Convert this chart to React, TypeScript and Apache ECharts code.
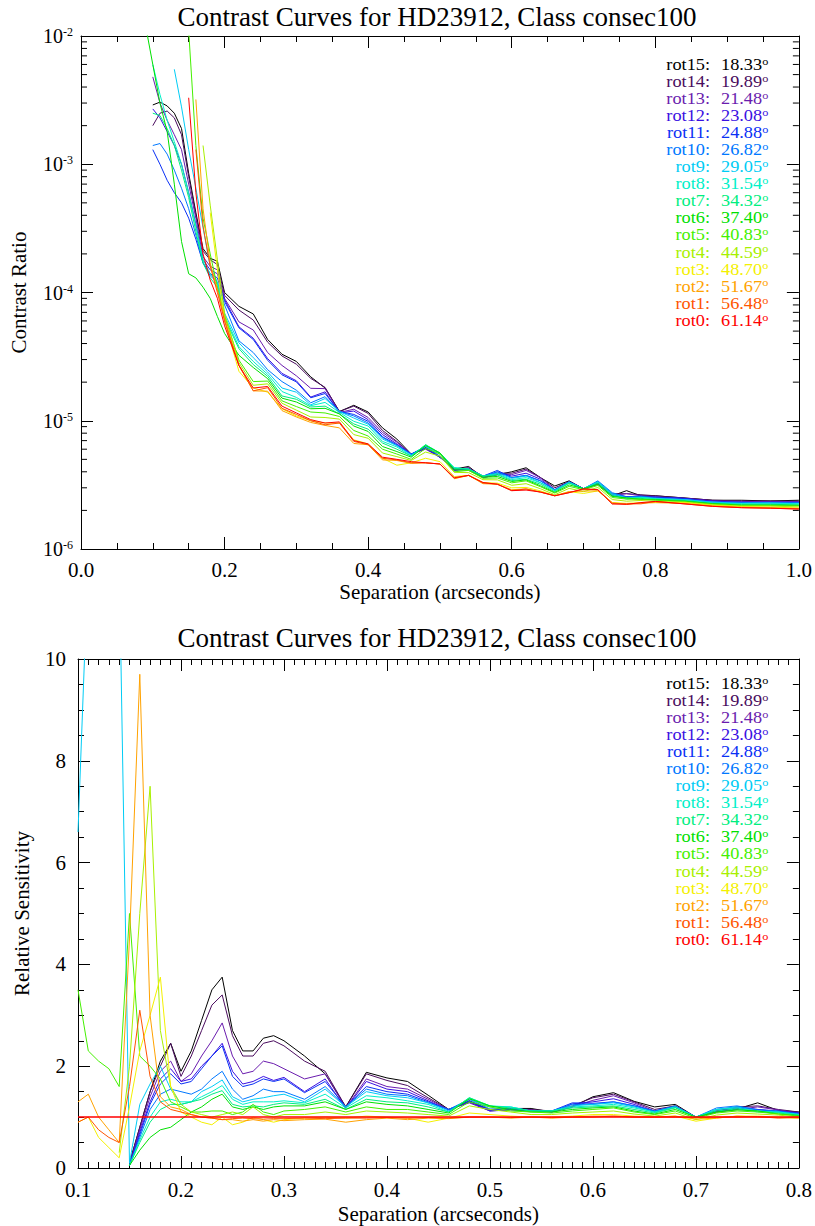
import React, { useEffect, useRef } from "react";
import * as echarts from "echarts";

const FONT = "Liberation Serif";
const TITLE = "Contrast Curves for HD23912, Class consec100";

const ROT_NAMES = ["rot15", "rot14", "rot13", "rot12", "rot11", "rot10", "rot9", "rot8", "rot7", "rot6", "rot5", "rot4", "rot3", "rot2", "rot1", "rot0"];
const ROT_ANGLES = ["18.33", "19.89", "21.48", "23.08", "24.88", "26.82", "29.05", "31.54", "34.32", "37.40", "40.83", "44.59", "48.70", "51.67", "56.48", "61.14"];
const ROT_COLORS = ["#000000", "#4a0c5e", "#6a1cae", "#3a10e2", "#0a30f5", "#0078ff", "#00ccf5", "#00f0c8", "#00ee80", "#00e000", "#44f000", "#a8f000", "#f4f000", "#ffa200", "#ff5400", "#ff0000"];

// separations (arcsec)
const TOP_SEP = [0.09, 0.10, 0.11, 0.12, 0.13, 0.14, 0.15, 0.16, 0.17, 0.18, 0.19, 0.20, 0.22, 0.24, 0.26, 0.28, 0.30, 0.32, 0.34, 0.36, 0.38, 0.40, 0.42, 0.44, 0.46, 0.48, 0.50, 0.52, 0.54, 0.56, 0.58, 0.60, 0.62, 0.64, 0.66, 0.68, 0.70, 0.72, 0.74, 0.76, 0.78, 0.80, 0.84, 0.88, 0.92, 0.96, 1.00];
const BOT_SEP = [0.10, 0.11, 0.12, 0.13, 0.14, 0.15, 0.16, 0.17, 0.18, 0.19, 0.20, 0.21, 0.22, 0.23, 0.24, 0.25, 0.26, 0.27, 0.28, 0.29, 0.30, 0.32, 0.34, 0.36, 0.38, 0.40, 0.42, 0.44, 0.46, 0.48, 0.50, 0.52, 0.54, 0.56, 0.58, 0.60, 0.62, 0.64, 0.66, 0.68, 0.70, 0.72, 0.74, 0.76, 0.78, 0.80];

// contrast ratio, in units of 1e-6
const topRot15 = [null, 2900, 3050, 2850, 2500, 1900, 850, 420, 220, 185, 175, 100, 78, 68, 43, 33, 29, 22, 18, 11.8, 13.2, 11.7, 8.8, 7.2, 5.5, 6.2, 5.2, 4.2, 4.4, 3.6, 3.8, 4.0, 4.3, 3.6, 3.1, 3.4, 2.95, 3.2, 2.6, 2.85, 2.6, 2.6, 2.5, 2.4, 2.4, 2.37, 2.4];
const topRot14 = [null, 2000, 2500, 2600, 2300, 1700, 800, 400, 210, 180, 165, 95, 73, 61, 41, 32, 27.6, 21.4, 18.2, 11.8, 13, 11.4, 8.4, 6.9, 5.5, 6.1, 5.2, 4.2, 4.3, 3.7, 3.9, 3.9, 4.2, 3.6, 3.0, 3.35, 2.95, 3.25, 2.7, 2.7, 2.65, 2.6, 2.5, 2.4, 2.37, 2.37, 2.36];
const topRot13 = [null, 4800, 3000, 2200, 1700, 1300, 700, 380, 190, 160, 150, 90, 59, 51, 34, 27, 22.4, 17.9, 17.8, 11.6, 12.3, 10.6, 8.1, 6.8, 5.5, 6.0, 5.2, 4.1, 4.3, 3.6, 3.8, 3.8, 4.1, 3.6, 2.9, 3.35, 2.95, 3.2, 2.6, 2.7, 2.6, 2.55, 2.48, 2.37, 2.35, 2.33, 2.34];
const topRot12 = [null, 2700, 2300, 1800, 1400, 1000, 600, 340, 180, 150, 140, 88, 54, 44, 30.5, 23.4, 20.5, 15.3, 16.8, 11.5, 11.9, 10.2, 7.8, 6.6, 5.5, 6.1, 5.2, 4.1, 4.2, 3.6, 4.0, 3.7, 3.9, 3.5, 2.86, 3.3, 2.95, 3.25, 2.65, 2.56, 2.58, 2.54, 2.48, 2.37, 2.31, 2.33, 2.32];
const topRot11 = [null, 1300, 1000, 750, 600, 500, 380, 260, 170, 140, 130, 85, 53, 43, 29.6, 22.8, 20.1, 15.1, 16.3, 11.8, 11.2, 9.9, 7.5, 6.5, 5.5, 6.2, 5.2, 4.2, 4.2, 3.7, 4.1, 3.6, 3.75, 3.4, 2.9, 3.3, 2.95, 3.35, 2.7, 2.56, 2.53, 2.54, 2.48, 2.32, 2.31, 2.29, 2.3];
const topRot10 = [null, 1400, 1450, 1200, 900, 650, 450, 280, 170, 135, 120, 80, 42, 34, 25, 20.2, 17.3, 13.8, 15.4, 11.8, 10.9, 9.6, 7.4, 6.4, 5.5, 6.3, 5.3, 4.2, 4.2, 3.7, 4.0, 3.6, 3.75, 3.4, 2.9, 3.35, 2.95, 3.4, 2.75, 2.54, 2.58, 2.5, 2.43, 2.32, 2.31, 2.29, 2.3];
const topRot9 = [null, null, null, null, 5500, 2800, 1300, 650, 320, 160, 120, 69, 40.5, 31, 24, 18, 16.7, 13.3, 14.9, 11.8, 10.5, 9.4, 7.2, 6.4, 5.4, 6.3, 5.5, 4.3, 4.2, 3.7, 3.9, 3.56, 3.7, 3.3, 2.86, 3.3, 2.95, 3.33, 2.7, 2.5, 2.53, 2.47, 2.43, 2.32, 2.27, 2.29, 2.25];
const topRot8 = [null, 6000, 3500, 2200, 1500, 1000, 600, 330, 180, 140, 120, 66, 37.8, 29, 23, 16.9, 15.2, 13.1, 13.9, 11.6, 9.9, 9.1, 6.9, 6.25, 5.3, 6.5, 5.6, 4.3, 4.2, 3.7, 3.84, 3.48, 3.6, 3.28, 2.86, 3.3, 2.95, 3.33, 2.65, 2.45, 2.53, 2.47, 2.39, 2.28, 2.25, 2.25, 2.25];
const topRot7 = [null, 2500, 2400, 1900, 1400, 900, 550, 300, 170, 130, 110, 63, 36.5, 27.4, 22.2, 15.6, 14.7, 12.8, 13, 11.3, 9.45, 8.6, 6.7, 6.0, 5.3, 6.5, 5.6, 4.25, 4.2, 3.7, 3.78, 3.42, 3.5, 3.2, 2.8, 3.25, 2.95, 3.25, 2.6, 2.5, 2.48, 2.44, 2.39, 2.26, 2.23, 2.23, 2.21];
const topRot6 = [12000, 6000, 3000, 1800, 700, 250, 140, 130, 110, 90, 65, 48, 32.4, 26, 21.3, 15, 14, 12.4, 12.5, 11.3, 9.1, 8.25, 6.3, 5.75, 5.2, 6.4, 5.6, 4.15, 4.1, 3.63, 3.68, 3.36, 3.46, 3.11, 2.76, 3.16, 2.95, 3.19, 2.57, 2.5, 2.44, 2.42, 2.36, 2.26, 2.2, 2.2, 2.19];
const topRot5 = [null, null, null, null, null, null, 11000, 1400, 380, 200, 110, 66, 29.7, 20.2, 20.4, 14.3, 12.9, 11.7, 11.5, 10.8, 8.4, 7.6, 6.0, 5.5, 5.0, 6.1, 5.5, 4.0, 4.1, 3.56, 3.58, 3.28, 3.4, 3.06, 2.73, 3.08, 2.9, 3.13, 2.52, 2.45, 2.44, 2.4, 2.34, 2.24, 2.18, 2.18, 2.17];
const topRot4 = [null, null, null, null, null, null, null, null, 1400, 480, 180, 69, 28.4, 18.9, 19.4, 13.7, 12.1, 10.7, 10.6, 10.3, 7.8, 7.3, 5.6, 5.25, 4.9, 5.7, 5.3, 3.96, 3.94, 3.47, 3.46, 3.14, 3.23, 2.95, 2.65, 2.97, 2.8, 3.02, 2.43, 2.36, 2.39, 2.35, 2.32, 2.21, 2.16, 2.16, 2.13];
const topRot3 = [null, null, null, null, null, null, null, null, null, 420, 150, 60, 24.3, 18, 16.7, 12.4, 10.9, 10, 9.6, 9.6, 7.1, 6.6, 5.1, 4.5, 4.7, 5.1, 4.8, 3.67, 3.75, 3.3, 3.26, 3.0, 3.02, 2.84, 2.6, 2.8, 2.71, 2.84, 2.3, 2.27, 2.3, 2.3, 2.3, 2.19, 2.14, 2.12, 2.09];
const topRot2 = [null, null, null, null, null, null, null, 3200, 450, 170, 105, 63, 27, 17.1, 17, 12, 10.7, 9.7, 9.2, 8.8, 6.65, 6.5, 4.95, 4.9, 4.65, 4.7, 4.6, 3.53, 3.75, 3.23, 3.2, 2.9, 2.94, 2.78, 2.6, 2.8, 2.83, 2.84, 2.3, 2.23, 2.28, 2.3, 2.27, 2.17, 2.12, 2.1, 2.07];
const topRot1 = [null, null, null, null, null, null, null, 1300, 330, 160, 100, 60, 27, 17.1, 18.1, 12.5, 11.2, 10, 9.3, 9.6, 6.9, 6.5, 5.1, 4.95, 4.7, 4.7, 4.6, 3.56, 3.75, 3.27, 3.2, 2.85, 2.94, 2.78, 2.6, 2.75, 2.92, 2.9, 2.25, 2.25, 2.25, 2.35, 2.25, 2.15, 2.1, 2.08, 2.05];
const topRot0 = [null, null, null, null, null, null, 3300, 600, 200, 125, 90, 55, 27, 18, 18.5, 13, 11.5, 10.2, 9.6, 9.8, 7.0, 6.6, 5.2, 5.0, 4.8, 4.7, 4.6, 3.6, 3.75, 3.3, 3.2, 2.85, 2.88, 2.78, 2.6, 2.75, 2.95, 2.9, 2.25, 2.23, 2.3, 2.35, 2.25, 2.15, 2.1, 2.08, 2.05];

// relative sensitivity
const relRot15 = [null, null, null, null, null, 0.1, 0.8, 1.5, 2.1, 2.45, 1.9, 2.3, 2.9, 3.5, 3.75, 2.7, 2.3, 2.3, 2.55, 2.6, 2.5, 2.2, 1.85, 1.2, 1.88, 1.77, 1.70, 1.43, 1.15, 1.32, 1.14, 1.17, 1.17, 1.10, 1.20, 1.40, 1.48, 1.31, 1.20, 1.25, 1.0, 1.10, 1.16, 1.28, 1.13, 1.10];
const relRot14 = [null, null, null, null, null, 0.1, 0.8, 1.5, 2.0, 2.45, 1.8, 2.2, 2.7, 3.2, 3.4, 2.6, 2.2, 2.2, 2.45, 2.5, 2.4, 2.1, 1.9, 1.2, 1.85, 1.72, 1.62, 1.38, 1.15, 1.30, 1.14, 1.17, 1.15, 1.12, 1.22, 1.38, 1.45, 1.30, 1.15, 1.22, 1.0, 1.12, 1.20, 1.22, 1.15, 1.10];
const relRot13 = [null, null, null, null, null, 0.05, 0.75, 1.4, 1.9, 2.1, 1.7, 1.85, 2.2, 2.5, 2.85, 2.2, 1.85, 1.9, 2.1, 2.05, 1.95, 1.75, 1.85, 1.18, 1.75, 1.6, 1.55, 1.35, 1.15, 1.28, 1.12, 1.15, 1.14, 1.10, 1.2, 1.33, 1.42, 1.28, 1.12, 1.22, 1.0, 1.1, 1.15, 1.2, 1.14, 1.08];
const relRot12 = [null, null, null, null, null, 0.05, 0.7, 1.3, 1.75, 1.95, 1.7, 1.75, 2.0, 2.2, 2.45, 1.9, 1.65, 1.7, 1.8, 1.72, 1.78, 1.5, 1.75, 1.17, 1.7, 1.55, 1.5, 1.32, 1.14, 1.3, 1.12, 1.14, 1.12, 1.10, 1.26, 1.30, 1.36, 1.25, 1.1, 1.2, 1.0, 1.12, 1.18, 1.15, 1.12, 1.08];
const relRot11 = [null, null, null, null, null, 0.05, 0.65, 1.25, 1.65, 1.85, 1.65, 1.7, 1.95, 2.2, 2.4, 1.8, 1.6, 1.65, 1.75, 1.7, 1.75, 1.48, 1.7, 1.2, 1.6, 1.5, 1.45, 1.3, 1.15, 1.32, 1.14, 1.16, 1.12, 1.12, 1.28, 1.27, 1.3, 1.22, 1.12, 1.2, 1.0, 1.15, 1.2, 1.15, 1.1, 1.08];
const relRot10 = [null, null, null, null, null, 0.05, 0.6, 1.15, 1.45, 1.55, 1.5, 1.45, 1.55, 1.75, 1.9, 1.55, 1.35, 1.42, 1.55, 1.5, 1.5, 1.35, 1.6, 1.2, 1.55, 1.45, 1.42, 1.28, 1.15, 1.35, 1.16, 1.17, 1.12, 1.12, 1.25, 1.25, 1.3, 1.22, 1.12, 1.22, 1.0, 1.18, 1.22, 1.14, 1.12, 1.06];
const relRot9 = [6.6, 12, 14, 14, 12, 0.1, 1.25, 1.65, 2.0, 1.55, 1.25, 1.3, 1.5, 1.6, 1.73, 1.4, 1.3, 1.35, 1.38, 1.42, 1.45, 1.3, 1.55, 1.2, 1.5, 1.42, 1.38, 1.28, 1.12, 1.35, 1.2, 1.2, 1.12, 1.12, 1.22, 1.25, 1.28, 1.2, 1.1, 1.2, 1.0, 1.15, 1.2, 1.12, 1.1, 1.05];
const relRot8 = [null, null, null, null, null, 0.05, 0.55, 1.0, 1.3, 1.35, 1.3, 1.3, 1.4, 1.5, 1.62, 1.35, 1.25, 1.3, 1.3, 1.3, 1.32, 1.28, 1.45, 1.18, 1.42, 1.38, 1.32, 1.25, 1.1, 1.38, 1.22, 1.2, 1.12, 1.12, 1.2, 1.22, 1.25, 1.18, 1.1, 1.2, 1.0, 1.15, 1.18, 1.1, 1.1, 1.05];
const relRot7 = [null, null, null, null, null, 0.05, 0.5, 0.9, 1.15, 1.25, 1.25, 1.3, 1.35, 1.45, 1.52, 1.25, 1.2, 1.22, 1.2, 1.25, 1.28, 1.25, 1.35, 1.15, 1.35, 1.3, 1.28, 1.2, 1.1, 1.38, 1.22, 1.18, 1.12, 1.12, 1.18, 1.2, 1.22, 1.15, 1.08, 1.18, 1.0, 1.12, 1.16, 1.12, 1.08, 1.04];
const relRot6 = [null, null, null, null, null, 0.05, 0.35, 0.6, 0.75, 0.8, 0.95, 1.1, 1.2, 1.35, 1.45, 1.2, 1.15, 1.2, 1.15, 1.2, 1.22, 1.22, 1.3, 1.15, 1.3, 1.25, 1.22, 1.15, 1.08, 1.36, 1.22, 1.15, 1.1, 1.1, 1.15, 1.18, 1.2, 1.12, 1.06, 1.15, 1.0, 1.1, 1.14, 1.12, 1.06, 1.03];
const relRot5 = [3.5, 2.3, 2.1, 1.95, 1.6, 5.0, 2.2, 2.0, 1.75, 1.3, 1.2, 1.1, 1.1, 1.12, 1.12, 1.05, 1.1, 1.25, 1.1, 1.05, 1.12, 1.15, 1.2, 1.1, 1.2, 1.15, 1.15, 1.1, 1.05, 1.3, 1.2, 1.12, 1.1, 1.08, 1.12, 1.15, 1.18, 1.1, 1.05, 1.12, 0.98, 1.08, 1.12, 1.1, 1.06, 1.02];
const relRot4 = [null, null, null, null, 0.3, 2.0, 5.0, 7.5, 2.7, 1.6, 1.25, 1.1, 1.05, 1.0, 1.05, 1.1, 1.05, 1.2, 1.05, 1.0, 1.05, 1.05, 1.1, 1.05, 1.12, 1.1, 1.08, 1.05, 1.02, 1.22, 1.15, 1.1, 1.05, 1.05, 1.08, 1.1, 1.12, 1.06, 1.02, 1.08, 0.95, 1.04, 1.08, 1.06, 1.04, 1.0];
const relRot3 = [0.9, 1.0, 0.6, 0.4, 0.2, 1.2, 2.3, 3.0, 3.75, 1.6, 1.1, 1.0, 0.9, 0.85, 1.0, 0.85, 0.9, 1.0, 0.95, 0.9, 0.95, 0.98, 1.0, 0.98, 1.02, 1.0, 0.98, 0.9, 0.98, 1.08, 1.05, 1.02, 1.0, 1.0, 1.02, 1.05, 1.05, 1.02, 1.0, 1.02, 0.92, 0.98, 1.02, 1.02, 1.0, 0.98];
const relRot2 = [1.3, 1.45, 1.0, 0.75, 0.5, 4.5, 9.7, 3.0, 1.4, 1.2, 1.15, 1.05, 1.0, 0.98, 0.95, 0.95, 0.92, 0.95, 0.92, 0.95, 0.93, 0.95, 0.96, 0.9, 0.95, 0.98, 0.95, 0.98, 0.97, 1.0, 1.0, 0.98, 1.0, 0.98, 1.0, 1.02, 1.02, 1.0, 1.0, 1.02, 0.96, 0.98, 1.02, 1.0, 0.99, 0.98];
const relRot1 = [0.9, 1.0, 0.75, 0.6, 0.5, 1.6, 3.1, 1.8, 1.3, 1.15, 1.1, 1.05, 1.0, 0.98, 0.95, 0.97, 0.98, 0.97, 0.96, 0.97, 0.97, 0.98, 0.97, 0.98, 0.98, 0.99, 0.98, 0.99, 0.98, 1.0, 1.0, 0.99, 1.0, 0.99, 1.0, 1.0, 1.02, 1.0, 1.0, 1.0, 0.99, 1.0, 1.0, 1.01, 0.98, 1.0];
const relRot0 = [1, 1, 1, 1, 1, 1, 1, 1, 1, 1, 1, 1, 1, 1, 1, 1, 1, 1, 1, 1, 1, 1, 1, 1, 1, 1, 1, 1, 1, 1, 1, 1, 1, 1, 1, 1, 1, 1, 1, 1, 1, 1, 1, 1, 1, 1];

const LOG_MINOR_TICKS = [2e-6, 3e-6, 4e-6, 5e-6, 6e-6, 7e-6, 8e-6, 9e-6, 2e-5, 3e-5, 4e-5, 5e-5, 6e-5, 7e-5, 8e-5, 9e-5, 2e-4, 3e-4, 4e-4, 5e-4, 6e-4, 7e-4, 8e-4, 9e-4, 2e-3, 3e-3, 4e-3, 5e-3, 6e-3, 7e-3, 8e-3, 9e-3];

const TOP_SERIES = [topRot15, topRot14, topRot13, topRot12, topRot11, topRot10, topRot9, topRot8, topRot7, topRot6, topRot5, topRot4, topRot3, topRot2, topRot1, topRot0];
const REL_SERIES = [relRot15, relRot14, relRot13, relRot12, relRot11, relRot10, relRot9, relRot8, relRot7, relRot6, relRot5, relRot4, relRot3, relRot2, relRot1, relRot0];

const TOP_GRID = { left: 77, top: 36, width: 723, height: 513 };
const BOT_GRID = { left: 78, top: 659, width: 721, height: 509 };

const axisLine = { show: true, onZero: false, lineStyle: { color: "#000", width: 1 } };
const labelStyle = { color: "#000", fontFamily: FONT, fontSize: 21 };
const nameStyle = { color: "#000", fontFamily: FONT, fontSize: 21 };

const LEG_FS = 15;
const LEG_SX = 1.22;

function legend(top: number) {
  const els: any[] = [];
  ROT_NAMES.forEach((n, i) => {
    const y = top + i * 17.07;
    els.push({
      type: "text", x: 710, y, scaleX: LEG_SX, scaleY: 1.12,
      style: { text: n + ":", fill: ROT_COLORS[i], fontSize: LEG_FS, fontFamily: FONT, lineHeight: 15, textAlign: "right", textVerticalAlign: "middle" },
    });
    els.push({
      type: "text", x: 721, y, scaleX: LEG_SX, scaleY: 1.12,
      style: {
        text: `{v|${ROT_ANGLES[i]}}{s|o}`, fill: ROT_COLORS[i], textAlign: "left", textVerticalAlign: "middle",
        rich: {
          v: { fontSize: LEG_FS, fontFamily: FONT, fill: ROT_COLORS[i], lineHeight: 15 },
          s: { fontSize: 10, fontFamily: FONT, fill: ROT_COLORS[i], verticalAlign: "top", lineHeight: 15 },
        },
      },
    });
  });
  return els;
}

export default function App() {
  const ref = useRef<HTMLDivElement>(null);
  useEffect(() => {
    if (!ref.current) return;
    const chart = echarts.init(ref.current, undefined, { renderer: "svg" });
    const xBase = (gridIndex: number, min: number, max: number, interval: number, split: number) => ({
      type: "value", gridIndex, min, max, interval,
      axisLine, splitLine: { show: false },
      axisTick: { show: true, inside: true, length: 12, lineStyle: { color: "#000" } },
      minorTick: { show: true, splitNumber: split, length: 6, lineStyle: { color: "#000" } },
    });
    const series: any[] = [];
    TOP_SERIES.forEach((arr, i) => {
      series.push({
        type: "line", xAxisIndex: 0, yAxisIndex: 0, symbol: "none", clip: true, z: 2,
        lineStyle: { color: ROT_COLORS[i], width: 1 },
        data: TOP_SEP.map((x, j) => [x, arr[j] == null ? "-" : (arr[j] as number) * 1e-6]),
      });
    });
    REL_SERIES.forEach((arr, i) => {
      series.push({
        type: "line", xAxisIndex: 2, yAxisIndex: 2, symbol: "none", clip: true, z: 2,
        lineStyle: { color: ROT_COLORS[i], width: i === 15 ? 1.5 : 1 },
        data: BOT_SEP.map((x, j) => [x, arr[j] == null ? "-" : arr[j]]),
      });
    });
    series.push({
      type: "custom", xAxisIndex: 0, yAxisIndex: 0, silent: true, z: 5,
      data: LOG_MINOR_TICKS.map((v) => [0, v]),
      renderItem: (_p: any, api: any) => {
        const v = api.value(1);
        const l = api.coord([0, v]);
        const r = api.coord([1, v]);
        return {
          type: "group",
          children: [
            { type: "line", shape: { x1: l[0], y1: l[1], x2: l[0] + 6, y2: l[1] }, style: { stroke: "#000", lineWidth: 1 } },
            { type: "line", shape: { x1: r[0] - 6, y1: r[1], x2: r[0], y2: r[1] }, style: { stroke: "#000", lineWidth: 1 } },
          ],
        };
      },
    });

    const logLabel = {
      ...labelStyle,
      margin: 8,
      formatter: (v: number) => `{b|10}{s|${Math.round(Math.log10(v))}}`,
      rich: {
        b: { fontSize: 20, fontFamily: FONT, color: "#000" },
        s: { fontSize: 12, fontFamily: FONT, color: "#000", verticalAlign: "top" },
      },
    };

    chart.setOption({
      animation: false,
      backgroundColor: "#fff",
      grid: [
        { ...TOP_GRID, containLabel: false },
        { ...BOT_GRID, containLabel: false },
      ],
      xAxis: [
        {
          ...xBase(0, 0, 1, 0.2, 4), position: "bottom",
          axisLabel: { ...labelStyle, margin: 10, formatter: (v: number) => v.toFixed(1) },
          name: "Separation (arcseconds)", nameLocation: "middle", nameGap: 32, nameTextStyle: nameStyle,
        },
        { ...xBase(0, 0, 1, 0.2, 4), position: "top", axisLabel: { show: false } },
        {
          ...xBase(1, 0.1, 0.8, 0.1, 10), position: "bottom",
          axisLabel: { ...labelStyle, margin: 11, formatter: (v: number) => v.toFixed(1) },
          name: "Separation (arcseconds)", nameLocation: "middle", nameGap: 35, nameTextStyle: nameStyle,
        },
        { ...xBase(1, 0.1, 0.8, 0.1, 10), position: "top", axisLabel: { show: false } },
      ],
      yAxis: [
        {
          type: "log", logBase: 10, gridIndex: 0, min: 1e-6, max: 1e-2, position: "left",
          axisLine, splitLine: { show: false },
          axisTick: { show: true, inside: true, length: 12, lineStyle: { color: "#000" } },
          axisLabel: logLabel,
          name: "Contrast Ratio", nameLocation: "middle", nameGap: 52, nameRotate: 90, nameTextStyle: nameStyle,
        },
        {
          type: "log", logBase: 10, gridIndex: 0, min: 1e-6, max: 1e-2, position: "right",
          axisLine, splitLine: { show: false },
          axisTick: { show: true, inside: true, length: 12, lineStyle: { color: "#000" } },
          axisLabel: { show: false },
        },
        {
          type: "value", gridIndex: 1, min: 0, max: 10, interval: 2, position: "left",
          axisLine, splitLine: { show: false },
          axisTick: { show: true, inside: true, length: 12, lineStyle: { color: "#000" } },
          minorTick: { show: true, splitNumber: 4, length: 6, lineStyle: { color: "#000" } },
          axisLabel: { ...labelStyle, margin: 12 },
          name: "Relative Sensitivity", nameLocation: "middle", nameGap: 46, nameRotate: 90, nameTextStyle: nameStyle,
        },
        {
          type: "value", gridIndex: 1, min: 0, max: 10, interval: 2, position: "right",
          axisLine, splitLine: { show: false },
          axisTick: { show: true, inside: true, length: 12, lineStyle: { color: "#000" } },
          minorTick: { show: true, splitNumber: 4, length: 6, lineStyle: { color: "#000" } },
          axisLabel: { show: false },
        },
      ],
      graphic: [
        { type: "text", x: 437, y: 17, style: { text: TITLE, fill: "#000", fontSize: 27, fontFamily: FONT, textAlign: "center", textVerticalAlign: "middle" } },
        { type: "text", x: 437, y: 638, style: { text: TITLE, fill: "#000", fontSize: 27, fontFamily: FONT, textAlign: "center", textVerticalAlign: "middle" } },
        ...legend(64),
        ...legend(683),
      ],
      series,
    });
    return () => chart.dispose();
  }, []);
  return <div ref={ref} style={{ position: "absolute", left: 0, top: 0, width: 815, height: 1226, background: "#fff" }} />;
}
